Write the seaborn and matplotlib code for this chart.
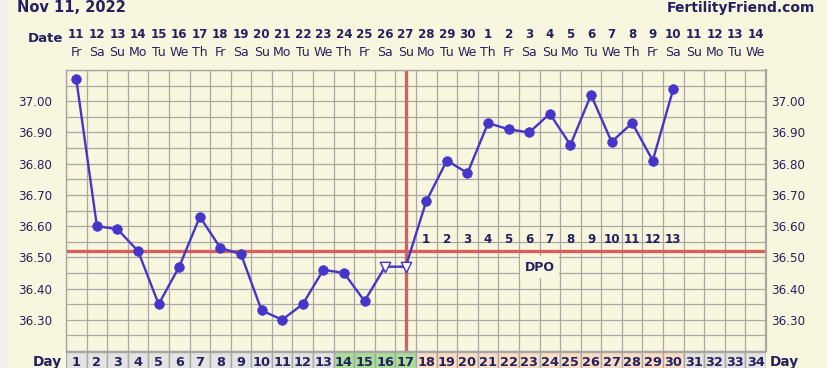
import numpy as np
import pandas as pd
import matplotlib
matplotlib.use("Agg")
import matplotlib.pyplot as plt
import matplotlib.transforms as mtransforms
from matplotlib.patches import Rectangle
import seaborn as sns

# ---------------- data ----------------
cycle_days = list(range(1, 31))
temps = [37.07, 36.60, 36.59, 36.52, 36.35, 36.47, 36.63, 36.53, 36.51, 36.33,
         36.30, 36.35, 36.46, 36.45, 36.36, 36.47, 36.47, 36.68, 36.81, 36.77,
         36.93, 36.91, 36.90, 36.96, 36.86, 37.02, 36.87, 36.93, 36.81, 37.04]
open_days = [16, 17]            # open (discarded) triangle markers
coverline = 36.52
ovulation_day = 17
dpo_days = list(range(18, 31))
dpo_numbers = list(range(1, 14))
all_days = list(range(1, 35))
date_numbers = [str(d) for d in list(range(11, 31)) + list(range(1, 15))]
weekdays = ["Fr", "Sa", "Su", "Mo", "Tu", "We", "Th"] * 5
weekdays = weekdays[:34]
fertile_days = [14, 15, 16, 17]
ytick_vals = [36.30, 36.40, 36.50, 36.60, 36.70, 36.80, 36.90, 37.00]
chart_date = "Nov 11, 2022"
site = "FertilityFriend.com"

# ---------------- style ----------------
sns.set_style("white")
plt.rcParams["font.family"] = ["DejaVu Sans"]
CREAM = "#F8F6DE"
NAVY = "#24225E"
GRID = "#A9A9A3"
BLUE = "#4535C8"
RED = "#D45F5F"

W, H = 828, 368
fig = plt.figure(figsize=(W / 100, H / 100), dpi=100, facecolor=CREAM)
fig.patches.append(Rectangle((0, 0), 8 / W, 1, transform=fig.transFigure,
                             facecolor="#EFEFEF", edgecolor="none", zorder=0))

left, right, top, bottom = 66, 766, 70, 351
ax = fig.add_axes([left / W, 1 - bottom / H, (right - left) / W, (bottom - top) / H])
ax.set_facecolor(CREAM)
ax.set_xlim(0.5, 34.5)
ax.set_ylim(36.20, 37.10)

# grid
ax.set_xticks(np.arange(0.5, 35, 1))
ax.set_xticklabels([])
ax.tick_params(axis="x", length=0)
grid_y = np.round(np.arange(36.20, 37.1001, 0.05), 2)
ax.set_yticks(grid_y)
ax.set_yticklabels([f"{v:.2f}" if v in ytick_vals else "" for v in grid_y])
ax.tick_params(axis="y", length=0, pad=10, labelsize=8.6, labelcolor=NAVY)
ax.grid(True, color=GRID, lw=0.9, zorder=0)
ax.set_axisbelow(True)
for s in ax.spines.values():
    s.set_color(GRID)
    s.set_linewidth(1.0)
ax.spines["right"].set_linewidth(1.6)

ax2 = ax.twinx()
ax2.set_ylim(ax.get_ylim())
ax2.set_yticks(grid_y)
ax2.set_yticklabels([f"{v:.2f}" if v in ytick_vals else "" for v in grid_y])
ax2.tick_params(axis="y", length=0, pad=4, labelsize=8.6, labelcolor=NAVY)
for s in ax2.spines.values():
    s.set_visible(False)

# coverline and ovulation line
ax.axhline(coverline, color=RED, lw=2.4, zorder=2)
ax.axvline(ovulation_day, color=RED, lw=2.4, zorder=2)

# DPO labels
for d, n in zip(dpo_days, dpo_numbers):
    ax.text(d, 36.556, str(n), ha="center", va="center", fontsize=8.6,
            fontweight="bold", color=NAVY, zorder=3)
ax.text(23.5, 36.468, "DPO", ha="center", va="center", fontsize=9,
        fontweight="bold", color=NAVY, zorder=3,
        bbox=dict(boxstyle="square,pad=0.35", facecolor=CREAM, edgecolor="none"))

# temperature line and markers
df = pd.DataFrame({"day": cycle_days, "temp": temps})
df["open"] = df["day"].isin(open_days)
sns.lineplot(data=df, x="day", y="temp", color=BLUE, lw=1.7, ax=ax, zorder=4,
             estimator=None, sort=False)
sns.scatterplot(data=df[~df["open"]], x="day", y="temp", color=BLUE, s=48,
                edgecolor=BLUE, linewidth=0.5, ax=ax, zorder=5, legend=False)
sns.scatterplot(data=df[df["open"]], x="day", y="temp", marker="v", s=55,
                facecolor="white", edgecolor=BLUE, linewidth=1.0, ax=ax,
                zorder=5, legend=False)
ax.set_xlabel("")
ax.set_ylabel("")

# day row
axd = fig.add_axes([left / W, 1 - 372 / H, (right - left) / W, 20 / H])
axd.set_xlim(0.5, 34.5)
axd.set_ylim(0, 1)
cell_colors = []
for d in all_days:
    if d in fertile_days:
        cell_colors.append("#A9DE98")
    elif d in dpo_days:
        cell_colors.append("#FADDC5")
    else:
        cell_colors.append("#E3E3E3")
axd.bar(all_days, [1] * len(all_days), width=1, bottom=0, color=cell_colors,
        edgecolor=GRID, linewidth=1.0)
for d in all_days:
    axd.text(d, 0.5, str(d), ha="center", va="center", fontsize=9.3,
             fontweight="bold", color=NAVY)
axd.axis("off")

# labels around
trans = mtransforms.blended_transform_factory(ax.transData, fig.transFigure)
for d, dn, wd in zip(all_days, date_numbers, weekdays):
    fig.text(0, 0, "")
    ax.text(d, 1 - 34 / H, dn, transform=trans, ha="center", va="center",
            fontsize=8.6, fontweight="bold", color=NAVY)
    ax.text(d, 1 - 53 / H, wd, transform=trans, ha="center", va="center",
            fontsize=9, color=NAVY)

fig.text(28 / W, 1 - 38 / H, "Date", ha="left", va="center", fontsize=9.5,
         fontweight="bold", color=NAVY)
fig.text(33 / W, 1 - 362 / H, "Day", ha="left", va="center", fontsize=9.8,
         fontweight="bold", color=NAVY)
fig.text(770 / W, 1 - 362 / H, "Day", ha="left", va="center", fontsize=9.8,
         fontweight="bold", color=NAVY)
fig.text(17 / W, 1 - 8 / H, chart_date, ha="left", va="center", fontsize=10.5,
         fontweight="bold", color=NAVY)
fig.text(815 / W, 1 - 8 / H, site, ha="right", va="center", fontsize=10,
         fontweight="bold", color=NAVY)

fig.savefig("out.png", dpi=100, facecolor=CREAM)
